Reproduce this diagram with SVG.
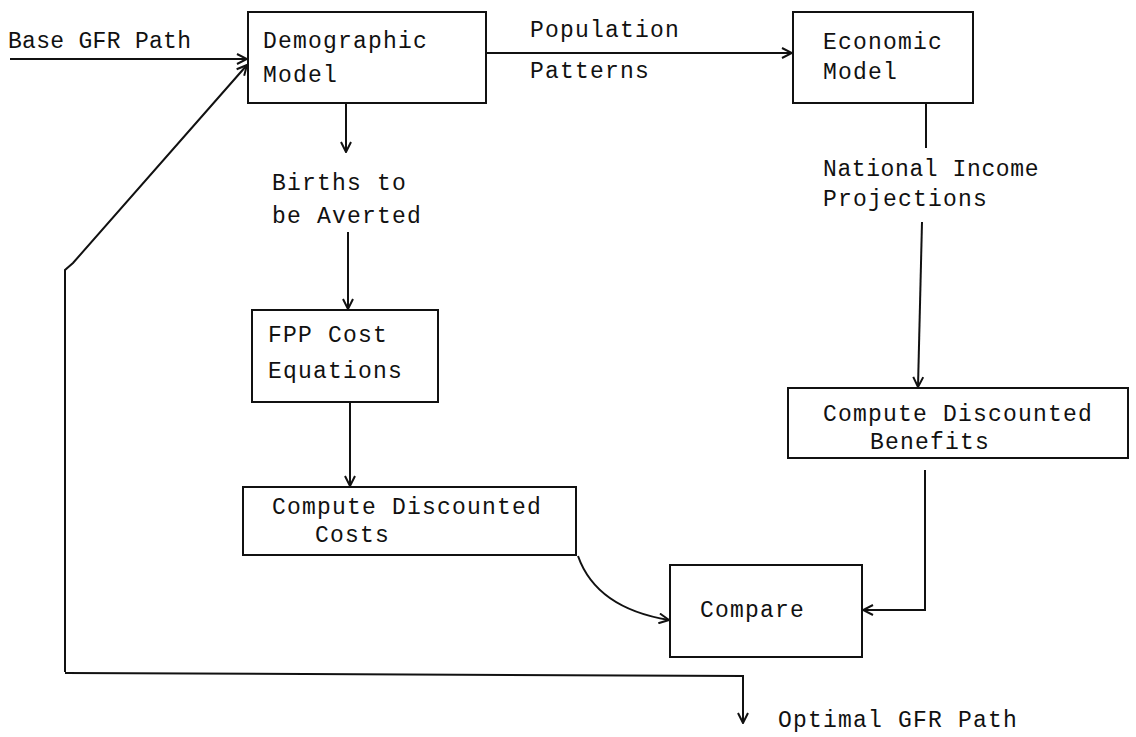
<svg xmlns="http://www.w3.org/2000/svg" width="1136" height="737" viewBox="0 0 1136 737">
<style>
text{font-family:"Liberation Mono","DejaVu Sans Mono",monospace;font-size:23px;fill:#111;letter-spacing:1.2px}
.box{fill:none;stroke:#111;stroke-width:2}
.c{fill:none;stroke:#111;stroke-width:2}
</style>
<defs>
<marker id="a" viewBox="0 0 12 12" refX="11" refY="6" markerWidth="12" markerHeight="12" markerUnits="userSpaceOnUse" orient="auto">
<path d="M1,1 L11,6 L1,11" fill="none" stroke="#111" stroke-width="2"/>
</marker>
</defs>
<rect width="1136" height="737" fill="#fff"/>
<text x="8" y="48" style="letter-spacing:0.3px">Base GFR Path</text>
<g id="demographic">
<rect class="box" x="248" y="12" width="238" height="91"/>
<text x="263" y="48">Demographic</text>
<text x="263" y="82">Model</text>
</g>
<g id="economic">
<rect class="box" x="793" y="12" width="180" height="91"/>
<text x="823" y="49">Economic</text>
<text x="823" y="79">Model</text>
</g>
<g id="fpp">
<rect class="box" x="252" y="310" width="186" height="92"/>
<text x="268" y="342">FPP Cost</text>
<text x="268" y="378">Equations</text>
</g>
<g id="costs">
<rect class="box" x="243" y="487" width="333" height="68"/>
<text x="272" y="514">Compute Discounted</text>
<text x="315" y="542">Costs</text>
</g>
<g id="benefits">
<rect class="box" x="788" y="388" width="340" height="70"/>
<text x="823" y="421">Compute Discounted</text>
<text x="870" y="449">Benefits</text>
</g>
<g id="compare">
<rect class="box" x="670" y="565" width="192" height="92"/>
<text x="700" y="617">Compare</text>
</g>
<g id="labels">
<text x="530" y="37">Population</text>
<text x="530" y="78">Patterns</text>
<text x="272" y="190">Births to</text>
<text x="272" y="223">be Averted</text>
<text x="823" y="176" style="letter-spacing:0.6px">National Income</text>
<text x="823" y="206">Projections</text>
<text x="778" y="727">Optimal GFR Path</text>
</g>
<g id="connectors">
<line class="c" x1="10" y1="59" x2="247" y2="59" marker-end="url(#a)"/>
<path class="c" d="M65,672 L65,270 L73,263 L247,65" marker-end="url(#a)"/>
<path class="c" d="M65,673 L743,676 L743,723" marker-end="url(#a)"/>
<line class="c" x1="487" y1="53" x2="792" y2="53" marker-end="url(#a)"/>
<line class="c" x1="346" y1="103" x2="346" y2="152" marker-end="url(#a)"/>
<line class="c" x1="348" y1="232" x2="348" y2="309" marker-end="url(#a)"/>
<line class="c" x1="350" y1="402" x2="350" y2="486" marker-end="url(#a)"/>
<line class="c" x1="926" y1="103" x2="926" y2="148"/>
<line class="c" x1="922" y1="222" x2="918" y2="387" marker-end="url(#a)"/>
<path class="c" d="M925,470 L925,610 L863,610" marker-end="url(#a)"/>
<path class="c" d="M578,556 C590,590 620,612 669,620" marker-end="url(#a)"/>
</g>
</svg>
